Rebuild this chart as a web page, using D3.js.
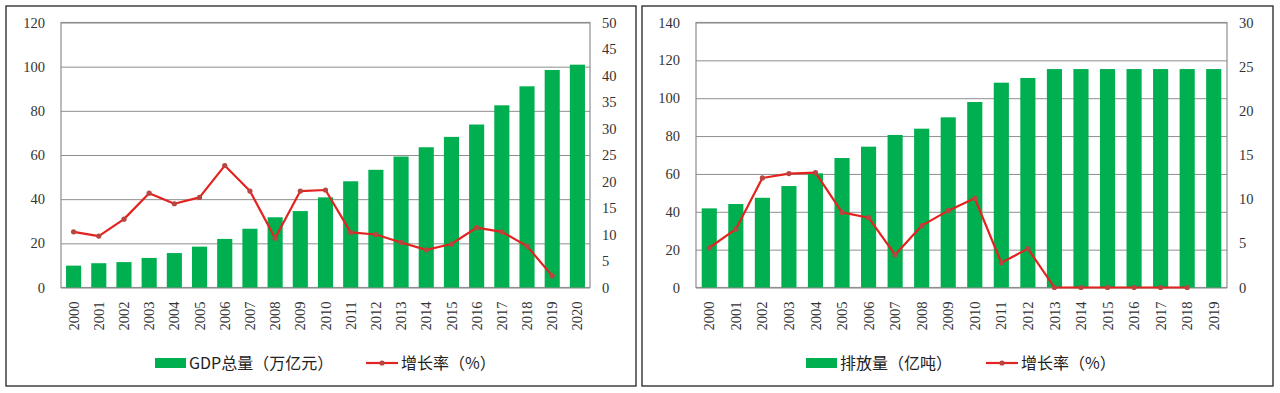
<!DOCTYPE html>
<html>
<head>
<meta charset="utf-8">
<script src="https://cdn.jsdelivr.net/npm/d3@7"></script>
<style>
  body { margin: 0; background: #fff; }
  svg { display: block; }
  .tick text { font-family: "Liberation Serif", "Times New Roman", serif; font-size: 14.5px; fill: #333; }
  .legend text { font-family: "Noto Sans CJK SC", "Noto Sans", sans-serif; font-size: 16px; fill: #222; }
</style>
</head>
<body>
<svg id="chart" width="1280" height="393"></svg>
<script>
// left panel: GDP
var gdpYears = ["2000","2001","2002","2003","2004","2005","2006","2007","2008","2009","2010",
                "2011","2012","2013","2014","2015","2016","2017","2018","2019","2020"];
var gdpTotal = [9.9, 11.0, 11.5, 13.4, 15.6, 18.5, 22.0, 26.6, 31.8, 34.6, 40.8,
                48.1, 53.3, 59.3, 63.5, 68.2, 73.8, 82.5, 91.1, 98.5, 100.9];
var gdpGrowth = [10.5, 9.7, 12.9, 17.8, 15.8, 17.0, 23.0, 18.2, 9.3, 18.2, 18.4,
                 10.4, 10.0, 8.5, 7.1, 8.2, 11.3, 10.5, 7.8, 2.2, null];
var gdpLeftTicks = [0, 20, 40, 60, 80, 100, 120];
var gdpRightTicks = [0, 5, 10, 15, 20, 25, 30, 35, 40, 45, 50];

// right panel: emissions
var emYears = ["2000","2001","2002","2003","2004","2005","2006","2007","2008","2009",
               "2010","2011","2012","2013","2014","2015","2016","2017","2018","2019"];
var emTotal = [41.8, 44.1, 47.4, 53.6, 60.3, 68.4, 74.4, 80.6, 83.9, 89.9,
               98.0, 108.2, 110.7, 115.4, 115.4, 115.4, 115.4, 115.4, 115.4, 115.4];
var emGrowth = [4.5, 6.6, 12.4, 12.9, 13.0, 8.5, 7.9, 3.7, 7.0, 8.7,
                10.1, 2.8, 4.4, 0, 0, 0, 0, 0, 0, null];
var emLeftTicks = [0, 20, 40, 60, 80, 100, 120, 140];
var emRightTicks = [0, 5, 10, 15, 20, 25, 30];

var barColor = "#00b050", lineColor = "#e2231f", dotColor = "#b8453f", gridColor = "#8e8e8e";

var svg = d3.select("#chart");

function drawPanel(o) {
  var g = svg.append("g");

  g.append("rect")
    .attr("x", o.box[0]).attr("y", o.box[1])
    .attr("width", o.box[2]).attr("height", o.box[3])
    .attr("fill", "#fff").attr("stroke", "#333").attr("stroke-width", 1.4);

  var x = d3.scaleBand().domain(o.cats).range([o.left, o.right])
    .paddingInner(o.pad).paddingOuter(o.pad / 2);
  var y = d3.scaleLinear().domain([0, d3.max(o.leftTicks)]).range([o.bottom, o.top]);
  var y2 = d3.scaleLinear().domain([0, d3.max(o.rightTicks)]).range([o.bottom, o.top]);

  // gridlines
  g.append("g")
    .attr("transform", "translate(" + o.left + ",0)")
    .call(d3.axisLeft(y).tickValues(o.leftTicks).tickSize(-(o.right - o.left)).tickFormat(""))
    .call(function (s) {
      s.select(".domain").remove();
      s.selectAll("line").attr("stroke", gridColor).attr("stroke-width", 1);
    });

  g.append("rect")
    .attr("x", o.left).attr("y", o.top)
    .attr("width", o.right - o.left).attr("height", o.bottom - o.top)
    .attr("fill", "none").attr("stroke", gridColor).attr("stroke-width", 1.2);

  // left axis labels
  g.append("g")
    .attr("transform", "translate(" + (o.left - 16) + ",0)")
    .call(d3.axisLeft(y).tickValues(o.leftTicks).tickSize(0).tickPadding(0))
    .call(function (s) { s.select(".domain").remove(); });

  // right axis labels
  g.append("g")
    .attr("transform", "translate(" + (o.right + 12) + ",0)")
    .call(d3.axisRight(y2).tickValues(o.rightTicks).tickSize(0).tickPadding(0))
    .call(function (s) { s.select(".domain").remove(); });

  // bars
  g.append("g").selectAll("rect")
    .data(o.cats)
    .join("rect")
    .attr("x", function (d) { return x(d); })
    .attr("width", x.bandwidth())
    .attr("y", function (d, i) { return y(o.bars[i]); })
    .attr("height", function (d, i) { return o.bottom - y(o.bars[i]); })
    .attr("fill", barColor);

  // growth line
  var pts = o.cats.map(function (c, i) { return { c: c, v: o.rate[i] }; })
    .filter(function (d) { return d.v !== null; });
  var line = d3.line()
    .x(function (d) { return x(d.c) + x.bandwidth() / 2; })
    .y(function (d) { return y2(d.v); });
  g.append("path").datum(pts)
    .attr("d", line)
    .attr("fill", "none").attr("stroke", lineColor).attr("stroke-width", 2.2)
    .attr("stroke-linejoin", "round");
  g.append("g").selectAll("circle")
    .data(pts)
    .join("circle")
    .attr("cx", function (d) { return x(d.c) + x.bandwidth() / 2; })
    .attr("cy", function (d) { return y2(d.v); })
    .attr("r", 2.6)
    .attr("fill", dotColor);

  // category labels, vertical
  g.append("g").attr("class", "tick").selectAll("text")
    .data(o.cats)
    .join("text")
    .attr("transform", function (d) {
      return "translate(" + (x(d) + x.bandwidth() / 2) + "," + (o.bottom + 14) + ") rotate(-90)";
    })
    .attr("text-anchor", "end")
    .attr("dy", "0.35em")
    .text(function (d) { return d; });

  // legend
  var lg = g.append("g").attr("class", "legend");
  lg.append("rect")
    .attr("x", o.legendX).attr("y", 358)
    .attr("width", 31).attr("height", 10)
    .attr("fill", barColor);
  lg.append("text")
    .attr("x", o.legendX + 34).attr("y", 363).attr("dy", "0.35em")
    .text(o.barLabel);
  lg.append("line")
    .attr("x1", o.legend2X).attr("x2", o.legend2X + 32)
    .attr("y1", 363).attr("y2", 363)
    .attr("stroke", lineColor).attr("stroke-width", 2.2);
  lg.append("circle")
    .attr("cx", o.legend2X + 16).attr("cy", 363).attr("r", 2.6)
    .attr("fill", dotColor);
  lg.append("text")
    .attr("x", o.legend2X + 35).attr("y", 363).attr("dy", "0.35em")
    .text("增长率（%）");
}

drawPanel({
  box: [6, 6, 630, 380],
  left: 61, right: 590, top: 22.5, bottom: 287.5, pad: 0.4,
  cats: gdpYears, bars: gdpTotal, rate: gdpGrowth,
  leftTicks: gdpLeftTicks, rightTicks: gdpRightTicks,
  legendX: 155, legend2X: 366, barLabel: "GDP总量（万亿元）"
});

drawPanel({
  box: [642, 6, 631, 380],
  left: 696, right: 1227, top: 22.5, bottom: 287.5, pad: 0.43,
  cats: emYears, bars: emTotal, rate: emGrowth,
  leftTicks: emLeftTicks, rightTicks: emRightTicks,
  legendX: 806, legend2X: 986, barLabel: "排放量（亿吨）"
});
</script>
</body>
</html>
